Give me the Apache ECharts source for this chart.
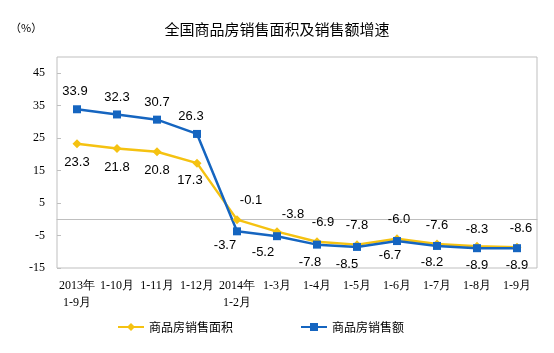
<!DOCTYPE html>
<html>
<head>
    <meta charset="utf-8">
    <script src="https://cdn.jsdelivr.net/npm/echarts@6/dist/echarts.min.js"></script>
    <style>
        html, body, #main {
            margin: 0;
            width: 554px;
            height: 353px;
            background: #fff;
        }
    </style>
</head>
<body>
<div id="main"></div>
<script>
    var months = ['2013年\n1-9月', '1-10月', '1-11月', '1-12月', '2014年\n1-2月',
        '1-3月', '1-4月', '1-5月', '1-6月', '1-7月', '1-8月', '1-9月'];
    var areaGrowth = [23.3, 21.8, 20.8, 17.3, -0.1, -3.8, -6.9, -7.8, -6.0, -7.6, -8.3, -8.6];
    var salesGrowth = [33.9, 32.3, 30.7, 26.3, -3.7, -5.2, -7.8, -8.5, -6.7, -8.2, -8.9, -8.9];

    // label nudges so they don't sit on the other line
    var areaOffsets = [[0, 0], [0, 0], [0, 0], [-7, -2], [14, 0], [16, 2], [6, 0], [0, 0], [2, 0], [0, 0], [0, 2], [4, 0]];
    var salesOffsets = [[-2, 0], [0, 0], [0, 0], [-6, 0], [-12, -3], [-14, -1], [-7, 0], [-10, 0], [-7, -3], [-5, -1], [0, 0], [0, 0]];

    var yellow = '#F5C211';
    var blue = '#1565C0';
    var labelFont = { fontFamily: 'Liberation Sans', fontSize: 13, color: '#000' };

    function buildData(values, offsets, upFirst) {
        return values.map(function (v, i) {
            var early = i < 4;
            var pos = early === upFirst ? 'top' : 'bottom';
            return {
                value: v,
                label: { position: pos, offset: offsets[i] }
            };
        });
    }

    var chart = echarts.init(document.getElementById('main'));

    chart.setOption({
        animation: false,
        title: {
            text: '全国商品房销售面积及销售额增速',
            left: 'center',
            top: 17,
            textStyle: {
                fontFamily: 'Noto Sans CJK SC',
                fontWeight: 'normal',
                fontSize: 15,
                color: '#000'
            }
        },
        graphic: [{
            type: 'text',
            left: 10,
            top: 22,
            style: {
                text: '（%）',
                fontFamily: 'Noto Sans CJK SC',
                fontSize: 11,
                fill: '#000'
            }
        }],
        legend: {
            left: 112,
            top: 316,
            itemWidth: 26,
            itemHeight: 10,
            itemGap: 67,
            textStyle: {
                fontFamily: 'Noto Sans CJK SC',
                fontSize: 12,
                color: '#000'
            },
            data: ['商品房销售面积', '商品房销售额']
        },
        grid: {
            left: 57,
            right: 17,
            top: 57,
            bottom: 85,
            show: true,
            borderColor: '#BFBFBF',
            borderWidth: 1
        },
        xAxis: [{
            type: 'category',
            data: months,
            position: 'bottom',
            axisLine: { show: false, onZero: false },
            axisTick: { show: false },
            axisLabel: {
                margin: 9,
                interval: 0,
                fontFamily: 'Liberation Serif',
                fontSize: 12,
                lineHeight: 17,
                color: '#000'
            }
        }, {
            type: 'category',
            data: months,
            position: 'top',
            axisLine: { onZero: true, lineStyle: { color: '#BFBFBF' } },
            axisTick: { inside: false, length: 5, lineStyle: { color: '#BFBFBF' } },
            axisLabel: { show: false }
        }],
        yAxis: {
            type: 'value',
            min: -15,
            max: 50,
            interval: 10,
            splitLine: { show: false },
            axisLine: { show: false },
            axisTick: { show: true, inside: true, length: 4, lineStyle: { color: '#BFBFBF' } },
            axisLabel: {
                showMaxLabel: false,
                margin: 12,
                fontFamily: 'Liberation Serif',
                fontSize: 12,
                color: '#000'
            }
        },
        series: [{
            name: '商品房销售面积',
            type: 'line',
            data: buildData(areaGrowth, areaOffsets, false),
            symbol: 'diamond',
            symbolSize: 9,
            color: yellow,
            lineStyle: { width: 2.5, color: yellow },
            label: Object.assign({
                show: true,
                distance: 8,
                formatter: function (p) { return p.value.toFixed(1); }
            }, labelFont)
        }, {
            name: '商品房销售额',
            type: 'line',
            data: buildData(salesGrowth, salesOffsets, true),
            symbol: 'rect',
            symbolSize: 8,
            color: blue,
            lineStyle: { width: 2.5, color: blue },
            label: Object.assign({
                show: true,
                distance: 7,
                formatter: function (p) { return p.value.toFixed(1); }
            }, labelFont)
        }]
    });
</script>
</body>
</html>
